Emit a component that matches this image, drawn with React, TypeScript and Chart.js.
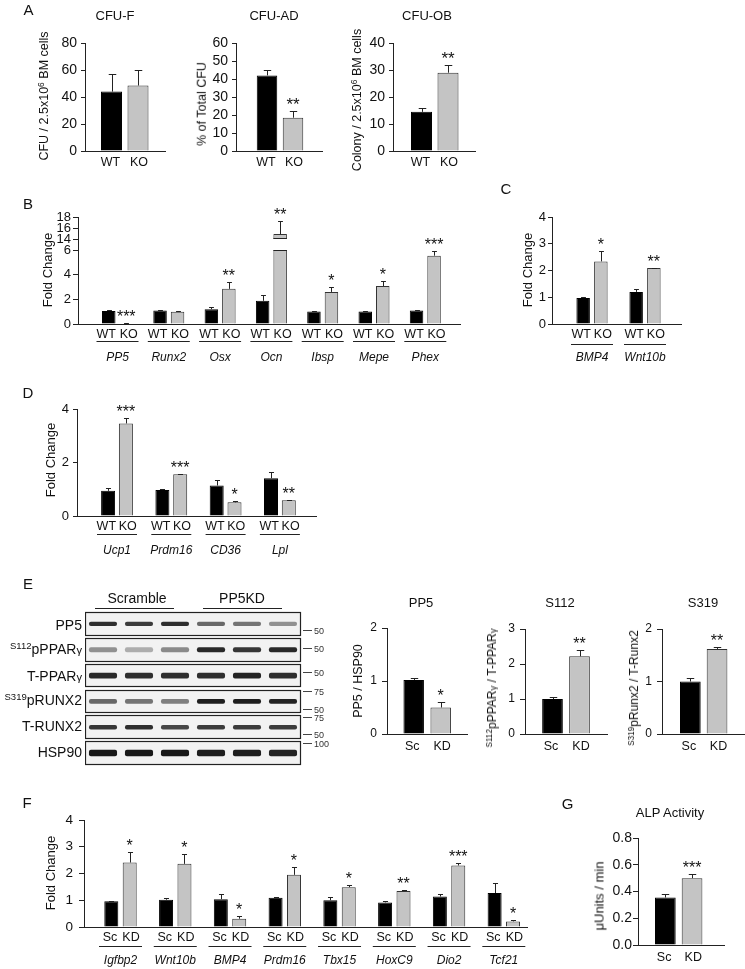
import React, { useEffect, useRef } from 'react';
import { Chart, registerables } from 'chart.js';
Chart.register(...registerables);

const FONT = '"Liberation Sans", Arial, Helvetica, sans-serif';

// ---------------- data ----------------
const wtKo = ['WT', 'KO'];
const scKd = ['Sc', 'KD'];

// Panel A
const cfuFMean = [44, 48.5];
const cfuFErr = [13, 11.5];
const cfuFTicks = [0, 20, 40, 60, 80];
const cfuADMean = [42, 18.5];
const cfuADErr = [3, 4];
const cfuADTicks = [0, 10, 20, 30, 40, 50, 60];
const cfuOBMean = [14.5, 29];
const cfuOBErr = [1.5, 2.8];
const cfuOBTicks = [0, 10, 20, 30, 40];
const aStars = ['', '**', '**'];

// Panel B
const bGenes = ['PP5', 'Runx2', 'Osx', 'Ocn', 'Ibsp', 'Mepe', 'Phex'];
const bWT = [1.05, 1.1, 1.2, 1.88, 1.02, 1.02, 1.1];
const bWTErr = [0.05, 0.03, 0.2, 0.47, 0.02, 0.02, 0.05];
const bKO = [0.05, 1.0, 2.85, 14.9, 2.6, 3.08, 5.54];
const bKOErr = [0.02, 0.08, 0.52, 2.3, 0.42, 0.42, 0.35];
const bStars = ['***', '', '**', '**', '*', '*', '***'];
const bTicksLow = [0, 2, 4, 6];
const bTicksHigh = [14, 16, 18];

// Panel C
const cGenes = ['BMP4', 'Wnt10b'];
const cWT = [0.97, 1.2];
const cWTErr = [0.05, 0.11];
const cKO = [2.34, 2.09];
const cKOErr = [0.4, 0.02];
const cStars = ['*', '**'];
const cTicks = [0, 1, 2, 3, 4];

// Panel D
const dGenes = ['Ucp1', 'Prdm16', 'CD36', 'Lpl'];
const dWT = [0.94, 0.97, 1.14, 1.41];
const dWTErr = [0.12, 0.05, 0.2, 0.22];
const dKO = [3.46, 1.56, 0.51, 0.59];
const dKOErr = [0.19, 0.02, 0.04, 0.02];
const dStars = ['***', '***', '*', '**'];
const dTicks = [0, 2, 4];

// Panel E (quantification)
const ePP5 = [1.02, 0.5];
const ePP5Err = [0.04, 0.11];
const eS112 = [1.0, 2.22];
const eS112Err = [0.07, 0.19];
const eS319 = [1.0, 1.62];
const eS319Err = [0.07, 0.03];
const eStars = ['*', '**', '**'];
const eTicks2 = [0, 1, 2];
const eTicks3 = [0, 1, 2, 3];

// Panel E (blot) band intensities, lanes: Scramble x3, PP5KD x3
const blotRows = ['PP5', 'S112pPPARγ', 'T-PPARγ', 'S319pRUNX2', 'T-RUNX2', 'HSP90'];
const bandPP5 = [0.85, 0.8, 0.85, 0.6, 0.55, 0.42];
const bandS112 = [0.42, 0.3, 0.45, 0.88, 0.82, 0.88];
const bandTPPAR = [0.88, 0.85, 0.85, 0.85, 0.9, 0.85];
const bandS319 = [0.6, 0.55, 0.5, 0.92, 0.92, 0.9];
const bandTRUNX2 = [0.82, 0.85, 0.75, 0.8, 0.8, 0.8];
const bandHSP90 = [0.95, 0.95, 0.95, 0.92, 0.92, 0.9];
const blotBands = [bandPP5, bandS112, bandTPPAR, bandS319, bandTRUNX2, bandHSP90];
const ladder: [string, number][][] = [
  [['50', 0.25]],
  [['50', -0.08]],
  [['50', -0.12]],
  [['75', -0.41], ['50', 0.3]],
  [['75', -0.39], ['50', 0.28]],
  [['100', -0.38]],
];

// Panel F
const fGenes = ['Igfbp2', 'Wnt10b', 'BMP4', 'Prdm16', 'Tbx15', 'HoxC9', 'Dio2', 'Tcf21'];
const fSc = [0.96, 1.02, 1.04, 1.09, 1.0, 0.92, 1.14, 1.27];
const fScErr = [0.01, 0.08, 0.21, 0.03, 0.14, 0.07, 0.11, 0.37];
const fKD = [2.41, 2.36, 0.31, 1.95, 1.49, 1.35, 2.3, 0.21];
const fKDErr = [0.39, 0.36, 0.1, 0.29, 0.08, 0.02, 0.09, 0.05];
const fStars = ['*', '*', '*', '*', '*', '**', '***', '*'];
const fTicks = [0, 1, 2, 3, 4];

// Panel G
const gMean = [0.355, 0.5];
const gErr = [0.025, 0.03];
const gTicks = [0, 0.2, 0.4, 0.6, 0.8];
const gTickLabels = ['0.0', '0.2', '0.4', '0.6', '0.8'];
const gStars = ['***'];

// ---------------- layout specs ----------------
type Spec = {
  left: number; right: number; top: number; bottom: number;
  yMin: number; yMax: number; yTicks: number[]; yLabels?: string[];
  tickFont: number; tickPad: number; tickLen: number;
  genes: string[]; a: number[]; aErr: number[]; b: number[]; bErr: number[];
  stars: string[]; names: string[];
  firstCenter: number; spacing: number; slot: number; barW: number;
  labelDy?: number; labelFont?: number; spread?: number;
  ulDy?: number; ulW?: number; geneDy?: number;
  starFont?: number; xAxis?: boolean; axisExt?: number; hideLabels?: boolean;
};

const single = (m: number[], e: number[]) => ({ a: [m[0]], aErr: [e[0]], b: [m[1]], bErr: [e[1]] });

const specs: Spec[] = [
  { left: 85, right: 165, top: 43, bottom: 151, yMin: 0, yMax: 80, yTicks: cfuFTicks, tickFont: 14, tickPad: 4, tickLen: 4,
    genes: [''], ...single(cfuFMean, cfuFErr), stars: [aStars[0]], names: wtKo,
    firstCenter: 124.75, spacing: 80, slot: 26.5, barW: 21, labelDy: 12, labelFont: 12.5, spread: 1, starFont: 17 },
  { left: 236, right: 322, top: 43, bottom: 151, yMin: 0, yMax: 60, yTicks: cfuADTicks, tickFont: 14, tickPad: 4, tickLen: 4,
    genes: [''], ...single(cfuADMean, cfuADErr), stars: [aStars[1]], names: wtKo,
    firstCenter: 280, spacing: 86, slot: 26, barW: 20.5, labelDy: 12, labelFont: 12.5, spread: 1, starFont: 17 },
  { left: 393, right: 475, top: 43, bottom: 151, yMin: 0, yMax: 40, yTicks: cfuOBTicks, tickFont: 14, tickPad: 4, tickLen: 4,
    genes: [''], ...single(cfuOBMean, cfuOBErr), stars: [aStars[2]], names: wtKo,
    firstCenter: 434.75, spacing: 82, slot: 26.5, barW: 21, labelDy: 12, labelFont: 12.5, spread: 1, starFont: 17 },
  // B lower
  { left: 78, right: 460, top: 250, bottom: 324, yMin: 0, yMax: 6, yTicks: bTicksLow, tickFont: 13, tickPad: 2, tickLen: 5,
    genes: bGenes, a: bWT, aErr: bWTErr, b: bKO, bErr: bKOErr, stars: bStars, names: wtKo,
    firstCenter: 117.5, spacing: 51.3, slot: 17.5, barW: 13.5, labelDy: 11, labelFont: 12.5, spread: 2.5,
    ulDy: 17, ulW: 42, geneDy: 34 },
  // B upper (broken axis)
  { left: 78, right: 460, top: 217, bottom: 239, yMin: 14, yMax: 18, yTicks: bTicksHigh, tickFont: 13, tickPad: 2, tickLen: 5,
    genes: bGenes, a: bWT, aErr: bWTErr, b: bKO, bErr: bKOErr, stars: bStars, names: wtKo,
    firstCenter: 117.5, spacing: 51.3, slot: 17.5, barW: 13.5, hideLabels: true, xAxis: false, axisExt: 11 },
  // C
  { left: 552, right: 681, top: 217, bottom: 324, yMin: 0, yMax: 4, yTicks: cTicks, tickFont: 13, tickPad: 2, tickLen: 4,
    genes: cGenes, a: cWT, aErr: cWTErr, b: cKO, bErr: cKOErr, stars: cStars, names: wtKo,
    firstCenter: 592, spacing: 53, slot: 17.7, barW: 13.5, labelDy: 11, labelFont: 12.5, spread: 2,
    ulDy: 20, ulW: 42, geneDy: 34 },
  // D
  { left: 77, right: 316, top: 409, bottom: 516, yMin: 0, yMax: 4, yTicks: dTicks, tickFont: 13, tickPad: 4, tickLen: 4,
    genes: dGenes, a: dWT, aErr: dWTErr, b: dKO, bErr: dKOErr, stars: dStars, names: wtKo,
    firstCenter: 117, spacing: 54.3, slot: 17.8, barW: 14, labelDy: 11, labelFont: 12.5, spread: 1.8,
    ulDy: 18, ulW: 40, geneDy: 35 },
  // E quant
  { left: 387, right: 467, top: 628, bottom: 734, yMin: 0, yMax: 2, yTicks: eTicks2, tickFont: 12, tickPad: 5, tickLen: 5,
    genes: [''], ...single(ePP5, ePP5Err), stars: [eStars[0]], names: scKd,
    firstCenter: 427.2, spacing: 80, slot: 27, barW: 20.5, labelDy: 12.5, labelFont: 12.5, spread: 1.5 },
  { left: 525, right: 607, top: 629, bottom: 734, yMin: 0, yMax: 3, yTicks: eTicks3, tickFont: 12, tickPad: 5, tickLen: 5,
    genes: [''], ...single(eS112, eS112Err), stars: [eStars[1]], names: scKd,
    firstCenter: 566, spacing: 82, slot: 27, barW: 20.7, labelDy: 12.5, labelFont: 12.5, spread: 1.5 },
  { left: 662, right: 745, top: 629, bottom: 734, yMin: 0, yMax: 2, yTicks: eTicks2, tickFont: 12, tickPad: 5, tickLen: 5,
    genes: [''], ...single(eS319, eS319Err), stars: [eStars[2]], names: scKd,
    firstCenter: 703.7, spacing: 83, slot: 26.7, barW: 20.7, labelDy: 12.5, labelFont: 12.5, spread: 1.5 },
  // F
  { left: 84, right: 527, top: 820, bottom: 927, yMin: 0, yMax: 4, yTicks: fTicks, tickFont: 13.5, tickPad: 6, tickLen: 5,
    genes: fGenes, a: fSc, aErr: fScErr, b: fKD, bErr: fKDErr, stars: fStars, names: scKd,
    firstCenter: 120.5, spacing: 54.76, slot: 18.4, barW: 14, labelDy: 11, labelFont: 12.5, spread: 1.3,
    ulDy: 19, ulW: 43, geneDy: 34 },
  // G
  { left: 638, right: 724, top: 838, bottom: 945, yMin: 0, yMax: 0.8, yTicks: gTicks, yLabels: gTickLabels, tickFont: 14, tickPad: 1, tickLen: 5,
    genes: [''], ...single(gMean, gErr), stars: gStars, names: scKd,
    firstCenter: 678.7, spacing: 86, slot: 26.7, barW: 20.7, labelDy: 12.5, labelFont: 12.5, spread: 1.2 },
];

// ---------------- components ----------------
function BarPanel({ s }: { s: Spec }) {
  const ref = useRef<HTMLCanvasElement>(null);
  const padL = 60, padT = 28, padR = 4, padB = 52;
  const L = Math.round(s.left), R = Math.round(s.right), T = Math.round(s.top), B = Math.round(s.bottom);
  const W = R - L + padL + padR;
  const H = B - T + padT + padB;

  useEffect(() => {
    const c = ref.current!;
    const n = s.genes.length;
    const unit = n > 1 ? s.spacing : R - L;
    const xMin = -(s.firstCenter - L) / unit;
    const xMax = xMin + (R - L) / unit;
    const cp = (2 * s.slot) / unit;
    const bp = s.barW / s.slot;
    const mk = (vals: number[]) => vals.map((v, i) => ({ x: i, y: v }));

    const overlay = {
      id: 'overlay',
      afterDatasetsDraw(chart: any) {
        const ctx = chart.ctx;
        const ys = chart.scales.y;
        const area = chart.chartArea;
        const metas = [chart.getDatasetMeta(0), chart.getDatasetMeta(1)];
        const vals = [s.a, s.b];
        const errs = [s.aErr, s.bErr];
        ctx.save();
        ctx.strokeStyle = '#222';
        ctx.lineWidth = 1;
        for (let k = 0; k < 2; k++) {
          for (let j = 0; j < vals[k].length; j++) {
            const v = vals[k][j];
            const e = errs[k][j];
            const bar = metas[k].data[j];
            const hw = bar.width / 2;
            const bx = Math.round(bar.x) + 0.5;
            if (v > s.yMax) {
              ctx.beginPath();
              ctx.moveTo(bar.x - hw, Math.round(area.top) + 0.5);
              ctx.lineTo(bar.x + hw, Math.round(area.top) + 0.5);
              ctx.stroke();
              continue;
            }
            if (v < s.yMin) continue;
            if (s.yMin > 0) {
              ctx.beginPath();
              ctx.moveTo(bar.x - hw, Math.round(area.bottom) - 0.5);
              ctx.lineTo(bar.x + hw, Math.round(area.bottom) - 0.5);
              ctx.stroke();
            }
            if (e > 0) {
              const y0 = ys.getPixelForValue(v);
              const y1 = Math.round(ys.getPixelForValue(v + e)) + 0.5;
              const cw = Math.max(4, bar.width * 0.36);
              ctx.beginPath();
              ctx.moveTo(bx, y0);
              ctx.lineTo(bx, y1);
              ctx.moveTo(bx - cw / 2, y1);
              ctx.lineTo(bx + cw / 2, y1);
              ctx.stroke();
            }
          }
        }
        if (s.axisExt) {
          const ax = Math.round(area.left) + 0.5;
          ctx.beginPath();
          ctx.moveTo(ax, area.bottom);
          ctx.lineTo(ax, area.bottom + s.axisExt);
          ctx.stroke();
        }
        // significance stars
        ctx.fillStyle = '#111';
        ctx.font = `${s.starFont ?? 16}px ${FONT}`;
        ctx.textAlign = 'center';
        ctx.textBaseline = 'alphabetic';
        s.stars.forEach((st, j) => {
          if (!st) return;
          const v = s.b[j];
          if (v > s.yMax || v < s.yMin) return;
          const bar = metas[1].data[j];
          const yy = ys.getPixelForValue(v + s.bErr[j]);
          ctx.fillText(st, bar.x, yy - 1);
        });
        // x labels
        if (!s.hideLabels) {
          ctx.textBaseline = 'middle';
          for (let j = 0; j < s.genes.length; j++) {
            ctx.font = `${s.labelFont ?? 12.5}px ${FONT}`;
            const sp = s.spread ?? 0;
            for (let k = 0; k < 2; k++) {
              const bar = metas[k].data[j];
              ctx.fillText(s.names[k], bar.x + (k === 0 ? -sp : sp), area.bottom + (s.labelDy ?? 11));
            }
            const gx = (metas[0].data[j].x + metas[1].data[j].x) / 2;
            if (s.ulDy) {
              const uy = Math.round(area.bottom + s.ulDy) + 0.5;
              ctx.beginPath();
              ctx.moveTo(gx - (s.ulW ?? 40) / 2, uy);
              ctx.lineTo(gx + (s.ulW ?? 40) / 2, uy);
              ctx.stroke();
            }
            if (s.geneDy && s.genes[j]) {
              ctx.font = `italic 12px ${FONT}`;
              ctx.fillText(s.genes[j], gx, area.bottom + s.geneDy);
            }
          }
        }
        ctx.restore();
      },
    };

    const chart = new Chart(c, {
      type: 'bar',
      data: {
        datasets: [
          { data: mk(s.a) as any, backgroundColor: '#000', borderColor: '#000', borderWidth: 1,
            categoryPercentage: cp, barPercentage: bp, clip: 0 as any },
          { data: mk(s.b) as any, backgroundColor: '#c4c4c4', borderColor: '#333', borderWidth: 1,
            categoryPercentage: cp, barPercentage: bp, clip: 0 as any },
        ],
      },
      options: {
        responsive: false,
        animation: false,
        devicePixelRatio: 1,
        layout: { padding: { left: 0, top: padT, right: padR, bottom: 0 } },
        plugins: { legend: { display: false }, tooltip: { enabled: false } },
        scales: {
          x: {
            type: 'linear', min: xMin, max: xMax, offset: false,
            ticks: { display: false },
            grid: { display: false },
            border: { display: s.xAxis !== false, color: '#222', width: 1 },
            afterBuildTicks: (sc: any) => { sc.ticks = s.genes.map((_, i) => ({ value: i })); },
            afterFit: (sc: any) => { sc.height = padB; },
          },
          y: {
            type: 'linear', min: s.yMin, max: s.yMax,
            ticks: {
              font: { size: s.tickFont, family: FONT }, color: '#111', padding: s.tickPad,
              autoSkip: false,
              callback: (_v: any, i: number) => (s.yLabels ? s.yLabels[i] : String(s.yTicks[i])),
            },
            grid: { display: true, drawOnChartArea: false, drawTicks: true, tickLength: s.tickLen, color: '#222' },
            border: { display: true, color: '#222', width: 1 },
            afterBuildTicks: (sc: any) => { sc.ticks = s.yTicks.map((v) => ({ value: v })); },
            afterFit: (sc: any) => { sc.width = padL; },
          },
        },
      } as any,
      plugins: [overlay],
    });
    return () => chart.destroy();
  }, []);

  return (
    <canvas ref={ref} width={W} height={H}
      style={{ position: 'absolute', left: L - padL, top: T - padT, width: W, height: H }} />
  );
}

function Blot() {
  const ref = useRef<HTMLCanvasElement>(null);
  const L = 85, R = 301, T = 611, B = 765, padR = 32;
  const W = R - L + padR, H = B - T + 1;
  const bandH = [0.17, 0.2, 0.22, 0.18, 0.17, 0.25];
  useEffect(() => {
    const c = ref.current!;
    const rowHalf = 0.455;
    const plug = {
      id: 'blot',
      beforeDatasetsDraw(chart: any) {
        const ctx = chart.ctx, ys = chart.scales.y, a = chart.chartArea;
        ctx.save();
        ctx.fillStyle = '#f2f2f2';
        blotRows.forEach((_, r) => {
          const y0 = Math.round(ys.getPixelForValue(r - rowHalf));
          const y1 = Math.round(ys.getPixelForValue(r + rowHalf));
          ctx.fillRect(a.left, y0, a.right - a.left, y1 - y0);
        });
        ctx.restore();
      },
      afterDatasetsDraw(chart: any) {
        const ctx = chart.ctx, ys = chart.scales.y, a = chart.chartArea;
        ctx.save();
        ctx.strokeStyle = '#222';
        ctx.lineWidth = 1.2;
        blotRows.forEach((_, r) => {
          const y0 = Math.round(ys.getPixelForValue(r - rowHalf)) + 0.5;
          const y1 = Math.round(ys.getPixelForValue(r + rowHalf)) - 0.5;
          ctx.strokeRect(a.left + 0.5, y0, a.right - a.left - 1, y1 - y0);
        });
        ctx.lineWidth = 1;
        ctx.strokeStyle = '#444';
        ctx.fillStyle = '#333';
        ctx.font = `9px ${FONT}`;
        ctx.textAlign = 'left';
        ctx.textBaseline = 'middle';
        ladder.forEach((marks, r) => {
          marks.forEach(([lab, off]) => {
            const y = Math.round(ys.getPixelForValue(r + off)) + 0.5;
            ctx.beginPath();
            ctx.moveTo(a.right + 2, y);
            ctx.lineTo(a.right + 11, y);
            ctx.stroke();
            ctx.fillText(lab, a.right + 13, y + 1);
          });
        });
        ctx.restore();
      },
    };
    const chart = new Chart(c, {
      type: 'bar',
      data: {
        datasets: blotBands.map((row, r) => ({
          data: row.map((_, j) => ({ x: j, y: [r - bandH[r] / 2, r + bandH[r] / 2] })) as any,
          backgroundColor: row.map((v) => `rgba(12,12,12,${v})`),
          borderWidth: 0,
          borderSkipped: false,
          borderRadius: 2,
          grouped: false,
          categoryPercentage: 1,
          barPercentage: 0.78,
          clip: 0 as any,
        })),
      },
      options: {
        responsive: false,
        animation: false,
        devicePixelRatio: 1,
        layout: { padding: { left: 0, top: 0, right: padR, bottom: 0 } },
        plugins: { legend: { display: false }, tooltip: { enabled: false } },
        scales: {
          x: {
            type: 'linear', min: -0.5, max: 5.5, offset: false,
            ticks: { display: false }, grid: { display: false }, border: { display: false },
            afterBuildTicks: (sc: any) => { sc.ticks = [0, 1, 2, 3, 4, 5].map((v) => ({ value: v })); },
            afterFit: (sc: any) => { sc.height = 0; },
          },
          y: {
            type: 'linear', min: -0.5, max: 5.5, reverse: true,
            ticks: { display: false }, grid: { display: false }, border: { display: false },
            afterFit: (sc: any) => { sc.width = 0; },
          },
        },
      } as any,
      plugins: [plug],
    });
    return () => chart.destroy();
  }, []);
  return (
    <canvas ref={ref} width={W} height={H}
      style={{ position: 'absolute', left: L, top: T, width: W, height: H }} />
  );
}

function Tx({ x, y, size = 13, rot = false, italic = false, align = 'center', children }: any) {
  const tx = align === 'right' ? '-100%' : align === 'left' ? '0' : '-50%';
  return (
    <div style={{
      position: 'absolute', left: x, top: y,
      transform: `translate(${tx},-50%)${rot ? ' rotate(-90deg)' : ''}`,
      fontSize: size, lineHeight: `${size}px`, whiteSpace: 'nowrap',
      fontStyle: italic ? 'italic' : 'normal', color: '#111',
    }}>{children}</div>
  );
}

const Sup = ({ children }: any) => (
  <span style={{ fontSize: '0.68em', position: 'relative', top: '-0.5em' }}>{children}</span>
);
const Gam = () => <span style={{ fontSize: '0.8em' }}>γ</span>;

export default function App() {
  return (
    <div style={{ position: 'absolute', left: 0, top: 0, width: 745, height: 969, background: '#fff', overflow: 'hidden', fontFamily: FONT }}>
      {specs.map((s, i) => <BarPanel key={i} s={s} />)}
      <Blot />

      {/* panel letters */}
      <Tx x={28.5} y={9} size={15}>A</Tx>
      <Tx x={28} y={203} size={15}>B</Tx>
      <Tx x={506} y={188} size={15}>C</Tx>
      <Tx x={28} y={392} size={15}>D</Tx>
      <Tx x={28} y={583} size={15}>E</Tx>
      <Tx x={27} y={802} size={15}>F</Tx>
      <Tx x={567.5} y={803} size={15}>G</Tx>

      {/* titles */}
      <Tx x={115} y={15} size={13}>CFU-F</Tx>
      <Tx x={274} y={15} size={13}>CFU-AD</Tx>
      <Tx x={427} y={15} size={13}>CFU-OB</Tx>
      <Tx x={421} y={602} size={13}>PP5</Tx>
      <Tx x={560} y={602} size={13}>S112</Tx>
      <Tx x={703} y={602} size={13}>S319</Tx>
      <Tx x={670} y={812} size={13}>ALP Activity</Tx>

      {/* y-axis titles */}
      <Tx x={45} y={96} size={12.5} rot>CFU / 2.5x10<Sup>6</Sup> BM cells</Tx>
      <Tx x={202} y={104} size={12.5} rot>% of Total CFU</Tx>
      <Tx x={358} y={100} size={12.5} rot>Colony / 2.5x10<Sup>6</Sup> BM cells</Tx>
      <Tx x={47} y={270} size={13} rot>Fold Change</Tx>
      <Tx x={527} y={270} size={13} rot>Fold Change</Tx>
      <Tx x={50} y={460} size={13} rot>Fold Change</Tx>
      <Tx x={358} y={681} size={12.5} rot>PP5 / HSP90</Tx>
      <Tx x={493} y={688} size={12} rot><Sup>S112</Sup>pPPAR<Gam /> / T-PPAR<Gam /></Tx>
      <Tx x={635} y={688} size={12} rot><Sup>S319</Sup>pRunx2 / T-Runx2</Tx>
      <Tx x={50} y={873} size={13} rot>Fold Change</Tx>
      <Tx x={599} y={896} size={13} rot>μUnits / min</Tx>

      {/* blot labels */}
      <Tx x={137} y={598} size={14}>Scramble</Tx>
      <Tx x={242} y={598} size={14}>PP5KD</Tx>
      <div style={{ position: 'absolute', left: 95, top: 608, width: 79, borderTop: '1px solid #222' }} />
      <div style={{ position: 'absolute', left: 203, top: 608, width: 79, borderTop: '1px solid #222' }} />
      <Tx x={82} y={625} size={14} align="right">PP5</Tx>
      <Tx x={82} y={650} size={14} align="right"><Sup>S112</Sup>pPPAR<Gam /></Tx>
      <Tx x={82} y={676} size={14} align="right">T-PPAR<Gam /></Tx>
      <Tx x={82} y={701} size={14} align="right"><Sup>S319</Sup>pRUNX2</Tx>
      <Tx x={82} y={726} size={14} align="right">T-RUNX2</Tx>
      <Tx x={82} y={752} size={14} align="right">HSP90</Tx>
    </div>
  );
}
